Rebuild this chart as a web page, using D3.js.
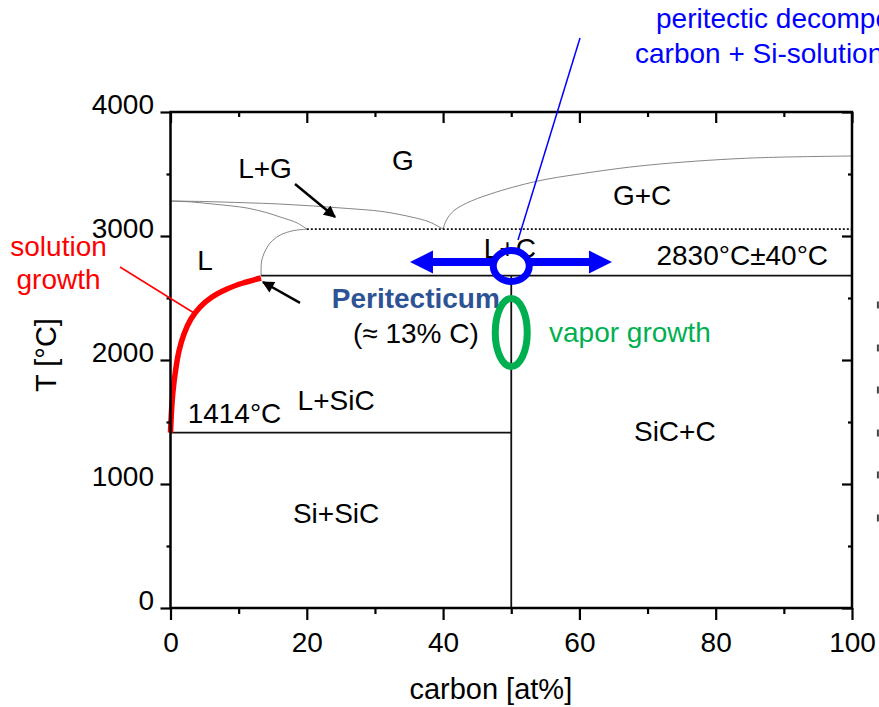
<!DOCTYPE html>
<html>
<head>
<meta charset="utf-8">
<script src="https://cdn.jsdelivr.net/npm/d3@7"></script>
<style>
  body { margin: 0; background: #fff; }
  svg { display: block; font-family: "Liberation Sans", Arial, sans-serif; }
  .axis path { display: none; }
  .axis line { stroke: #000; stroke-width: 2.2; }
  .axis text { font-size: 28px; fill: #000; }
  .lbl { font-size: 28px; fill: #000; }
  .boundary { fill: none; stroke: #777; stroke-width: 0.9; }
  .phase { stroke: #111; stroke-width: 1.8; }
</style>
</head>
<body>
<div id="chart"></div>
<script>
// ticks
const xTicks = [0, 20, 40, 60, 80, 100];
const xMinor = [10, 30, 50, 70, 90];
const yTicks = [0, 1000, 2000, 3000, 4000];
const yMinor = [500, 1500, 2500, 3500];

// phase boundaries, [at% C, T in °C]
const solutionCurve = [[0, 1414], [0.15, 1589], [0.37, 1750], [0.73, 1911], [1.25, 2073], [1.98, 2210],
  [3.0, 2331], [4.33, 2427], [6.09, 2508], [8.29, 2573], [10.64, 2621], [13.28, 2661]];
const liquidusHigh = [[13.3, 2680], [13.4, 2806], [14.2, 2911], [15, 2965], [16.1, 3008], [18, 3043], [20, 3055]];
const liquidGasLower = [[0, 3282], [3, 3275], [6.2, 3258], [9, 3242], [11.2, 3226], [14, 3190],
  [16.1, 3153], [18.6, 3105], [20, 3055]];
const liquidGasUpper = [[0, 3282], [5, 3278], [11, 3268], [16, 3258], [21, 3242], [26, 3222],
  [31, 3198], [35.6, 3150], [38, 3113], [40, 3055]];
const gasCarbon = [[40, 3055], [40.5, 3130], [41.5, 3200], [43.4, 3264], [47, 3340], [53.7, 3441],
  [60, 3500], [69.8, 3570], [84.4, 3627], [100, 3645]];

const siMelt = 1414;
const peritecticT = 2680;
const peritecticX = 13.3;
const sicX = 50;
const gasLineT = 3055;
const gasLineX = 20;

// text labels: [text, at% C, T]
const phaseLabels = [
  ["L+G", 13.87, 3468], ["G", 34.1, 3532], ["G+C", 69.2, 3250], ["L", 5.06, 2726],
  ["L+C", 49.8, 2823], ["2830°C±40°C", 83.9, 2766], ["(≈ 13% C)", 36.0, 2137],
  ["L+SiC", 24.3, 1597], ["1414°C", 9.39, 1492], ["SiC+C", 74.0, 1347], ["Si+SiC", 24.3, 685]
];
const peritecticLabel = ["Peritecticum", 36.0, 2419];
const solutionLabels = [["solution", -16.43, 2841], ["growth", -16.43, 2573]];
const vaporLabel = ["vapor growth", 55.54, 2145];
const decompLabels = [["peritectic decomposition", 71.24, 4677], ["carbon + Si-solution", 68.16, 4395]];
const xTitle = ["carbon [at%]", 47.0];
const yTitle = ["T [°C]", 2040];
const edgeMarks = [2444, 2097, 1758, 1411, 1073, 726];

// annotation geometry in data units
const blackArrows = [[[18.27, 3419], [24.14, 3153]], [[19.0, 2460], [13.57, 2629]]];
const redPointer = [[-7.41, 2750], [3.45, 2379]];
const bluePointer = [[60.09, 4597], [50.99, 2968]];
const blueRing = [50, 2758];
const greenRing = [50, 2222];
const blueArrowT = 2790;
const blueArrowEnds = [35.14, 64.78];

function phaseDiagram() {
  const width = 879;
  const height = 707;

  const x = d3.scaleLinear().domain([0, 100]).range([170.5, 852]);
  const y = d3.scaleLinear().domain([0, 4000]).range([608, 112]);

  const svg = d3.select("#chart").append("svg")
    .attr("width", width)
    .attr("height", height);

  const defs = svg.append("defs");
  defs.append("marker")
    .attr("id", "head")
    .attr("markerUnits", "userSpaceOnUse")
    .attr("viewBox", "0 0 10 10")
    .attr("refX", 9).attr("refY", 5)
    .attr("markerWidth", 14).attr("markerHeight", 12)
    .attr("orient", "auto")
    .append("path")
    .attr("d", "M0,0 L10,5 L0,10 z")
    .attr("fill", "#000");

  const line = d3.line().x(d => x(d[0])).y(d => y(d[1])).curve(d3.curveCatmullRom.alpha(0.5));

  // thin boundaries
  [liquidGasLower, liquidGasUpper, liquidusHigh, gasCarbon].forEach(c => {
    svg.append("path").datum(c).attr("class", "boundary").attr("d", line);
  });

  svg.append("line").attr("class", "phase")
    .attr("x1", x(gasLineX)).attr("x2", x(100))
    .attr("y1", y(gasLineT)).attr("y2", y(gasLineT))
    .attr("stroke-dasharray", "2,2");

  svg.append("line").attr("class", "phase")
    .attr("x1", x(0)).attr("x2", x(sicX))
    .attr("y1", y(siMelt)).attr("y2", y(siMelt));
  svg.append("line").attr("class", "phase")
    .attr("x1", x(peritecticX)).attr("x2", x(100))
    .attr("y1", y(peritecticT)).attr("y2", y(peritecticT));
  svg.append("line").attr("class", "phase")
    .attr("x1", x(sicX)).attr("x2", x(sicX))
    .attr("y1", y(0)).attr("y2", y(peritecticT));

  // solution growth curve
  svg.append("path").datum(solutionCurve)
    .attr("fill", "none").attr("stroke", "#ff0000").attr("stroke-width", 5.5)
    .attr("d", line);

  // axes
  svg.append("g").attr("class", "axis")
    .attr("transform", `translate(${x(0)},0)`)
    .call(d3.axisLeft(y).tickValues(yTicks).tickFormat(d3.format("d"))
      .tickSize(10).tickSizeOuter(0).tickPadding(6.5))
    .selectAll("text").attr("dy", "0.05em");
  svg.append("g").attr("class", "axis")
    .attr("transform", `translate(${x(0)},0)`)
    .call(d3.axisLeft(y).tickValues(yMinor).tickSize(4).tickFormat(""));
  svg.append("g").attr("class", "axis")
    .attr("transform", `translate(0,${y(0)})`)
    .call(d3.axisBottom(x).tickValues(xTicks).tickFormat(d3.format("d"))
      .tickSize(12).tickSizeOuter(0).tickPadding(12));
  svg.append("g").attr("class", "axis")
    .attr("transform", `translate(0,${y(0)})`)
    .call(d3.axisBottom(x).tickValues(xMinor).tickSize(6).tickFormat(""));
  svg.append("g").attr("class", "axis")
    .attr("transform", `translate(0,${y(4000)})`)
    .call(d3.axisBottom(x).tickValues(xTicks).tickSize(11).tickFormat(""));
  svg.append("g").attr("class", "axis")
    .attr("transform", `translate(0,${y(4000)})`)
    .call(d3.axisBottom(x).tickValues(xMinor).tickSize(5).tickFormat(""));
  svg.append("g").attr("class", "axis")
    .attr("transform", `translate(${x(100)},0)`)
    .call(d3.axisLeft(y).tickValues(yTicks).tickSize(10).tickFormat(""));
  svg.append("g").attr("class", "axis")
    .attr("transform", `translate(${x(100)},0)`)
    .call(d3.axisLeft(y).tickValues(yMinor).tickSize(4).tickFormat(""));

  svg.append("rect")
    .attr("x", x(0)).attr("y", y(4000))
    .attr("width", x(100) - x(0)).attr("height", y(0) - y(4000))
    .attr("fill", "none").attr("stroke", "#000").attr("stroke-width", 2.5);

  svg.append("text").attr("class", "lbl")
    .attr("x", x(xTitle[1])).attr("y", 699)
    .attr("text-anchor", "middle").style("font-size", "29px")
    .text(xTitle[0]);
  svg.append("text").attr("class", "lbl")
    .attr("transform", `translate(56,${y(yTitle[1])}) rotate(-90)`)
    .attr("text-anchor", "middle").style("font-size", "29px")
    .text(yTitle[0]);

  // labels
  svg.selectAll(".phaselbl").data(phaseLabels).enter().append("text")
    .attr("class", "lbl phaselbl")
    .attr("x", d => x(d[1])).attr("y", d => y(d[2]))
    .attr("text-anchor", "middle")
    .text(d => d[0]);

  svg.append("text").attr("class", "lbl")
    .attr("x", x(peritecticLabel[1])).attr("y", y(peritecticLabel[2]))
    .attr("text-anchor", "middle")
    .style("font-weight", "bold").style("fill", "#2e5395")
    .text(peritecticLabel[0]);

  svg.selectAll(".sollbl").data(solutionLabels).enter().append("text")
    .attr("class", "lbl sollbl")
    .attr("x", d => x(d[1])).attr("y", d => y(d[2]))
    .attr("text-anchor", "middle").style("fill", "#ff0000")
    .text(d => d[0]);

  svg.append("text").attr("class", "lbl")
    .attr("x", x(vaporLabel[1])).attr("y", y(vaporLabel[2]))
    .style("fill", "#00b050")
    .text(vaporLabel[0]);

  svg.selectAll(".declbl").data(decompLabels).enter().append("text")
    .attr("class", "lbl declbl")
    .attr("x", d => x(d[1])).attr("y", d => y(d[2]))
    .style("fill", "#0000ff")
    .text(d => d[0]);

  // cut-off marks at the right edge of the slide
  svg.selectAll(".edge").data(edgeMarks).enter().append("line")
    .attr("class", "edge")
    .attr("x1", x(103.8)).attr("x2", x(103.8))
    .attr("y1", d => y(d) - 3.5).attr("y2", d => y(d) + 3.5)
    .attr("stroke", "#444").attr("stroke-width", 2);

  // pointers
  svg.append("line")
    .attr("x1", x(redPointer[0][0])).attr("y1", y(redPointer[0][1]))
    .attr("x2", x(redPointer[1][0])).attr("y2", y(redPointer[1][1]))
    .attr("stroke", "#ff0000").attr("stroke-width", 1.5);

  svg.selectAll(".blackarrow").data(blackArrows).enter().append("line")
    .attr("class", "blackarrow")
    .attr("x1", d => x(d[0][0])).attr("y1", d => y(d[0][1]))
    .attr("x2", d => x(d[1][0])).attr("y2", d => y(d[1][1]))
    .attr("stroke", "#000").attr("stroke-width", 2.5)
    .attr("marker-end", "url(#head)");

  // blue double arrow, split by the ring
  const cx = x(blueRing[0]);
  const ay = y(blueArrowT);
  const ringRx = 18, ringRy = 15.5;
  const shaft = 4, headLen = 23, headHalf = 11.5;
  function blockArrow(from, tip) {
    const dir = Math.sign(tip - from);
    const base = tip - dir * headLen;
    return `M${from},${ay - shaft} L${base},${ay - shaft} L${base},${ay - headHalf} L${tip},${ay}` +
      ` L${base},${ay + headHalf} L${base},${ay + shaft} L${from},${ay + shaft} Z`;
  }
  svg.append("path").attr("d", blockArrow(cx - ringRx, x(blueArrowEnds[0]))).attr("fill", "#0000ff");
  svg.append("path").attr("d", blockArrow(cx + ringRx, x(blueArrowEnds[1]))).attr("fill", "#0000ff");

  svg.append("line")
    .attr("x1", x(bluePointer[0][0])).attr("y1", y(bluePointer[0][1]))
    .attr("x2", x(bluePointer[1][0])).attr("y2", y(bluePointer[1][1]))
    .attr("stroke", "#0000ff").attr("stroke-width", 1.5);

  svg.append("ellipse")
    .attr("cx", cx).attr("cy", y(blueRing[1]))
    .attr("rx", ringRx).attr("ry", ringRy)
    .attr("fill", "none").attr("stroke", "#0000ff").attr("stroke-width", 7);

  svg.append("ellipse")
    .attr("cx", x(greenRing[0])).attr("cy", y(greenRing[1]))
    .attr("rx", 16).attr("ry", 34)
    .attr("fill", "none").attr("stroke", "#00b050").attr("stroke-width", 7);
}

window.onload = phaseDiagram;
</script>
</body>
</html>
